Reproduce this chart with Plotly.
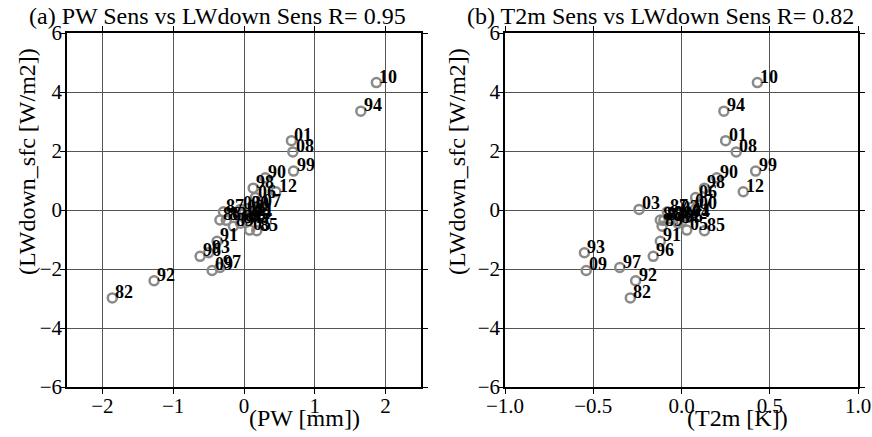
import plotly.graph_objects as go

years = ["82", "83", "84", "85", "86", "87", "88", "89", "90", "91", "92",
         "93", "94", "95", "96", "97", "98", "99", "00", "01", "02", "03",
         "04", "05", "06", "07", "08", "09", "10", "11", "12"]
pw_sens = [-1.86, -0.25, -0.05, 0.18, -0.34, -0.29, 0.02, -0.15, 0.30, -0.38, -1.27,
           -0.50, 1.65, 0.05, -0.62, -0.34, 0.13, 0.70, 0.05, 0.67, 0.00, -0.05,
           0.10, 0.08, 0.16, 0.22, 0.69, -0.45, 1.87, 0.12, 0.45]
t2m_sens = [-0.29, -0.10, -0.02, 0.13, -0.12, -0.08, -0.06, -0.11, 0.20, -0.12, -0.26,
            -0.55, 0.24, 0.00, -0.16, -0.35, 0.13, 0.42, 0.08, 0.25, -0.02, -0.24,
            0.04, 0.03, 0.08, 0.06, 0.31, -0.54, 0.43, 0.05, 0.35]
lw_sens = [-2.98, -0.35, -0.45, -0.70, -0.34, -0.06, -0.30, -0.55, 1.09, -1.06, -2.40,
           -1.45, 3.35, -0.40, -1.57, -1.95, 0.74, 1.32, 0.05, 2.35, -0.10, 0.02,
           -0.25, -0.68, 0.42, 0.10, 1.97, -2.05, 4.32, -0.20, 0.62]
titles = ["(a) PW Sens vs LWdown Sens R= 0.95", "(b) T2m Sens vs LWdown Sens R= 0.82"]
x_titles = ["(PW [mm])", "(T2m [K])"]
y_title = "(LWdown_sfc [W/m2])"

FONT = "Liberation Serif"
W, H = 872, 437
L, R, T, B = 67, 858, 33, 387  # plot area in pixels


def px(x):
    return (x - L) / (R - L)


def py(y):
    return (B - y) / (B - T)


fig = go.Figure()

marker = dict(symbol="circle-open", size=9, color="#8a8a8a",
              line=dict(color="#8a8a8a", width=2.5))
fig.add_trace(go.Scatter(x=pw_sens, y=lw_sens, mode="markers", marker=marker,
                         xaxis="x", yaxis="y", showlegend=False))
fig.add_trace(go.Scatter(x=t2m_sens, y=lw_sens, mode="markers", marker=marker,
                         xaxis="x2", yaxis="y2", showlegend=False))

annotations = []
for xs, xref, yref in [(pw_sens, "x", "y"), (t2m_sens, "x2", "y2")]:
    for yr, xv, yv in zip(years, xs, lw_sens):
        annotations.append(dict(x=xv, y=yv, xref=xref, yref=yref, text="<b>%s</b>" % yr,
                                showarrow=False, xanchor="left", yanchor="middle",
                                xshift=1, yshift=6,
                                font=dict(family=FONT, size=18, color="black")))

for t, xc in zip(titles, [217, 660]):
    annotations.append(dict(x=px(xc), y=py(16), xref="paper", yref="paper",
                            text=t, showarrow=False, xanchor="center", yanchor="middle",
                            font=dict(family=FONT, size=24, color="black")))
for t, xc in zip(x_titles, [304, 737]):
    annotations.append(dict(x=px(xc), y=py(418), xref="paper", yref="paper",
                            text=t, showarrow=False, xanchor="center", yanchor="middle",
                            font=dict(family=FONT, size=24, color="black")))
for xc in [27, 457]:
    annotations.append(dict(x=px(xc), y=py(162), xref="paper", yref="paper",
                            text=y_title, showarrow=False, textangle=-90,
                            xanchor="center", yanchor="middle",
                            font=dict(family=FONT, size=24, color="black")))

axis_common = dict(showline=True, linecolor="black", linewidth=1.5, mirror="ticks",
                   ticks="outside", ticklen=5, tickwidth=1, tickcolor="black",
                   showgrid=True, gridcolor="#555555", gridwidth=1, zeroline=False,
                   automargin=False,
                   tickfont=dict(family=FONT, size=21, color="black"))

fig.update_layout(
    width=W, height=H,
    margin=dict(l=L, r=W - R, t=T, b=H - B, autoexpand=False),
    paper_bgcolor="white", plot_bgcolor="white",
    font=dict(family=FONT, color="black"),
    xaxis=dict(domain=[0, px(421)], range=[-2.5, 2.5], dtick=1,
               anchor="y", ticklabelstandoff=-6, **axis_common),
    yaxis=dict(domain=[0, 1], range=[-6, 6], dtick=2, anchor="x",
               ticklabelstandoff=-6, **axis_common),
    xaxis2=dict(domain=[px(505), 1], range=[-1, 1], dtick=0.5,
                tickformat=".1f", anchor="y2", ticklabelstandoff=-6, **axis_common),
    yaxis2=dict(domain=[0, 1], range=[-6, 6], dtick=2, anchor="x2",
                ticklabelstandoff=-6, **axis_common),
    annotations=annotations,
)

fig.write_html("out.html", config={"displayModeBar": False},
               post_script="document.body.style.margin='0';document.body.style.overflow='hidden';")
